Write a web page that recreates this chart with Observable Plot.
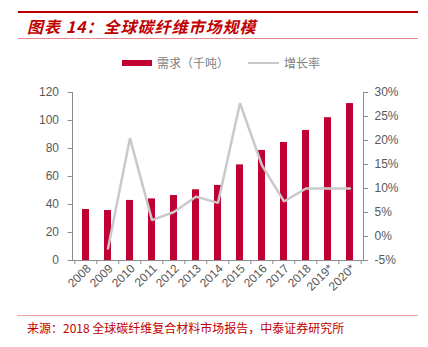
<!DOCTYPE html>
<html>
<head>
<meta charset="utf-8">
<script src="https://cdn.jsdelivr.net/npm/d3@7"></script>
<script src="https://cdn.jsdelivr.net/npm/@observablehq/plot@0.6"></script>
<style>
  html, body { margin: 0; padding: 0; background: #fff; }
  #wrap { position: relative; width: 428px; height: 347px; overflow: hidden; background: #fff;
    font-family: "Noto Sans CJK SC", "Liberation Sans", sans-serif; }
  .abs { position: absolute; }
  #title { left: 27px; top: 16px; font-size: 16px; font-weight: bold; font-style: italic; color: #c00000;
    letter-spacing: 1px; line-height: 20px; white-space: nowrap; }
  #topline { left: 18px; top: 11px; width: 400px; height: 2px; background: #c00000; }
  #subline { left: 18px; top: 38px; width: 400px; height: 1px; background: #e88a8a; }
  #legend { left: 0; top: 54px; width: 428px; height: 18px; font-size: 12px; color: #7f7f7f; }
  #legend .sw1 { position: absolute; left: 122px; top: 6px; width: 30px; height: 6px; background: #c00033; }
  #legend .t1 { position: absolute; left: 157px; top: 0px; line-height: 18px; white-space: nowrap; }
  #legend .sw2 { position: absolute; left: 248px; top: 8px; width: 31px; height: 2px; background: #c8c8c8; }
  #legend .t2 { position: absolute; left: 284px; top: 0px; line-height: 18px; white-space: nowrap; }
  #chart { left: 0; top: 80px; }
  #capline { left: 17px; top: 315px; width: 401px; height: 1px; background: #f0a0a0; }
  #caption { left: 27px; top: 320px; font-size: 12px; color: #c00000; line-height: 16px; white-space: nowrap; letter-spacing: 0px; }
</style>
</head>
<body>
<div id="wrap">
  <div class="abs" id="topline"></div>
  <div class="abs" id="title">图表 14：全球碳纤维市场规模</div>
  <div class="abs" id="subline"></div>
  <div class="abs" id="legend">
    <div class="sw1"></div><div class="t1">需求（千吨）</div>
    <div class="sw2"></div><div class="t2">增长率</div>
  </div>
  <div class="abs" id="chart"></div>
  <div class="abs" id="capline"></div>
  <div class="abs" id="caption">来源：2018 全球碳纤维复合材料市场报告，中泰证券研究所</div>
</div>
<script>
const years = ["2008","2009","2010","2011","2012","2013","2014","2015","2016","2017","2018","2019*","2020*"];
const demand = [36.4, 35.7, 42.9, 44.0, 46.4, 50.5, 53.6, 68.3, 78.6, 84.3, 92.9, 102.0, 112.1];
const growthYears = ["2009","2010","2011","2012","2013","2014","2015","2016","2017","2018","2019*","2020*"];
const growth = [-2.5, 20.5, 3.4, 5.1, 8.3, 7.0, 27.8, 14.8, 7.3, 10.0, 10.0, 10.0];
const leftTicks = [0, 20, 40, 60, 80, 100, 120];
const rightTicks = [-5, 0, 5, 10, 15, 20, 25, 30];

const leftMax = 120, rMin = -5, rMax = 30;
const toLeft = p => (p - rMin) / (rMax - rMin) * leftMax;
const toRight = v => v / leftMax * (rMax - rMin) + rMin;

const bars = years.map((y, i) => ({year: y, value: demand[i]}));
const pts = growthYears.map((y, i) => ({year: y, g: growth[i]}));

const W = 428, H = 230, mL = 72, mR = 65, mT = 12, mB = 50;
const step = (W - mL - mR) / years.length;
const tickColor = "#8c8c8c";
const labelColor = "#595959";

const chart = Plot.plot({
  width: W, height: H,
  marginLeft: mL, marginRight: mR, marginTop: mT, marginBottom: mB,
  style: {fontFamily: "'Liberation Sans', Arial, sans-serif", fontSize: "12px", color: labelColor, background: "transparent", overflow: "visible"},
  x: {domain: years, paddingInner: 0.67, paddingOuter: 0.335, axis: null},
  y: {domain: [0, leftMax], axis: null},
  marks: [
    Plot.barY(bars, {x: "year", y: "value", fill: "#c00033"}),
    Plot.line(pts, {x: "year", y: d => toLeft(d.g), stroke: "#c9c9c9", strokeWidth: 2.5, strokeLinejoin: "miter"}),
    Plot.frame({anchor: "left", stroke: tickColor}),
    Plot.frame({anchor: "right", stroke: tickColor}),
    Plot.frame({anchor: "bottom", stroke: tickColor}),
    Plot.axisY({anchor: "left", ticks: leftTicks, tickSize: 4.5, tickPadding: 9, stroke: tickColor, fill: labelColor, label: null}),
    Plot.axisY({anchor: "right", ticks: rightTicks.map(toLeft), tickFormat: v => Math.round(toRight(v)) + "%", tickSize: 4, tickPadding: 7, stroke: tickColor, fill: labelColor, label: null}),
    Plot.axisX({ticks: years, tickFormat: () => "", tickSize: 4, dx: -step / 2, stroke: tickColor, label: null}),
    Plot.axisX({ticks: [years[years.length - 1]], tickFormat: () => "", tickSize: 4, dx: step / 2, stroke: tickColor, label: null}),
    Plot.axisX({ticks: years, tickSize: 0, tickPadding: 6, tickRotate: -45, dx: 3, fill: labelColor, label: null})
  ]
});
document.getElementById("chart").appendChild(chart);
</script>
</body>
</html>
